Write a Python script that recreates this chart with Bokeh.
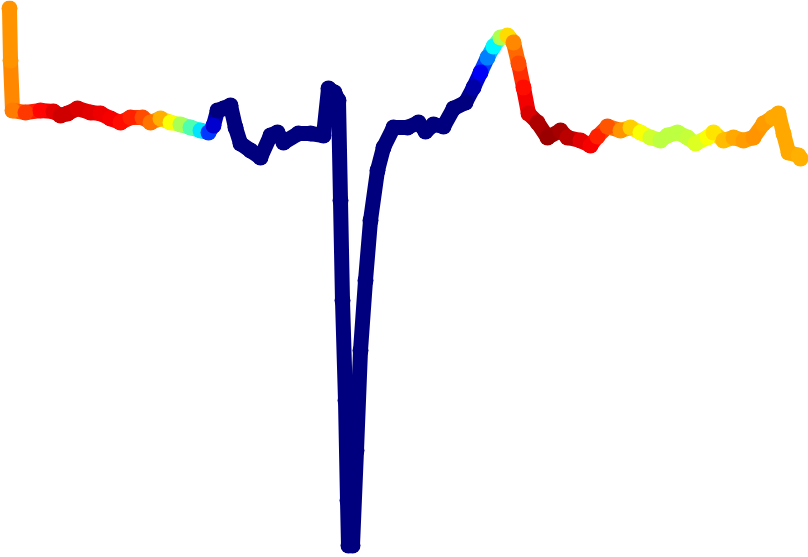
import numpy as np
from bokeh.plotting import figure
from bokeh.models import ColumnDataSource, Range1d
from bokeh.transform import linear_cmap
from bokeh.embed import file_html
from bokeh.resources import INLINE

# sample index
t = [9, 10, 12, 25, 40, 53, 60, 67, 77, 90, 100, 110, 120, 130, 142, 150, 160, 170, 180, 190,
     200, 208, 213, 217, 223, 230, 235, 240, 250, 260, 270, 277, 283, 298, 310, 323, 328, 334, 338, 340,
     342, 345, 347, 348, 352, 356, 360, 365, 370, 377, 383, 393, 407, 418, 425, 433, 443, 453, 465, 473,
     480, 487, 493, 500, 507, 513, 518, 523, 528, 537, 547, 560, 567, 580, 590, 597, 607, 620, 630, 640,
     650, 660, 667, 677, 687, 695, 707, 713, 723, 733, 743, 753, 763, 772, 778, 783, 788, 798, 800]
# amplitude (mV)
amp = [1.04, 0.52, 0.02, 0.00, 0.02, 0.01, -0.03, -0.01, 0.04, 0.00, -0.01, -0.06, -0.10, -0.05, -0.05, -0.10, -0.06, -0.10, -0.12, -0.15,
       -0.18, -0.20, -0.13, 0.02, 0.04, 0.07, -0.15, -0.31, -0.38, -0.45, -0.23, -0.20, -0.30, -0.21, -0.21, -0.23, 0.24, 0.20, 0.12, -0.88,
       -1.88, -2.88, -3.88, -4.33, -4.33, -3.38, -2.38, -1.68, -1.08, -0.58, -0.35, -0.15, -0.15, -0.10, -0.19, -0.12, -0.14, 0.04, 0.10, 0.25,
       0.40, 0.55, 0.66, 0.75, 0.77, 0.70, 0.49, 0.25, -0.01, -0.10, -0.25, -0.18, -0.25, -0.28, -0.33, -0.24, -0.14, -0.18, -0.15, -0.20,
       -0.25, -0.28, -0.23, -0.20, -0.25, -0.31, -0.25, -0.20, -0.28, -0.25, -0.28, -0.25, -0.11, -0.05, -0.01, -0.21, -0.40, -0.43, -0.46]
# importance score (0..1) used for colour
score = [0.73, 0.73, 0.75, 0.82, 0.87, 0.90, 0.92, 0.92, 0.91, 0.90, 0.89, 0.88, 0.86, 0.84, 0.80, 0.76, 0.70, 0.62, 0.54, 0.45,
         0.35, 0.18, 0.08, 0.0, 0.0, 0.0, 0.0, 0.0, 0.0, 0.0, 0.0, 0.0, 0.0, 0.0, 0.0, 0.0, 0.0, 0.0, 0.0, 0.0,
         0.0, 0.0, 0.0, 0.0, 0.0, 0.0, 0.0, 0.0, 0.0, 0.0, 0.0, 0.0, 0.0, 0.0, 0.0, 0.0, 0.0, 0.0, 0.0, 0.04,
         0.12, 0.25, 0.37, 0.55, 0.66, 0.74, 0.80, 0.86, 0.91, 0.95, 0.97, 0.96, 0.94, 0.90, 0.88, 0.84, 0.79, 0.73, 0.67, 0.62,
         0.58, 0.56, 0.56, 0.56, 0.57, 0.59, 0.62, 0.65, 0.69, 0.71, 0.72, 0.73, 0.72, 0.71, 0.71, 0.71, 0.71, 0.70, 0.70]

def jet(v):
    r = np.clip(1.5 - abs(4 * v - 3), 0, 1)
    g = np.clip(1.5 - abs(4 * v - 2), 0, 1)
    b = np.clip(1.5 - abs(4 * v - 1), 0, 1)
    return "#%02x%02x%02x" % (int(r * 255), int(g * 255), int(b * 255))

JET = [jet(i / 255) for i in range(256)]

n = len(t)
src = ColumnDataSource(dict(
    x0=t[:-1], y0=amp[:-1], x1=t[1:], y1=amp[1:],
    c=[(score[i] + score[i + 1]) / 2 for i in range(n - 1)],
))
pts = ColumnDataSource(dict(x=t, y=amp, c=score))

p = figure(width=808, height=557, output_backend="svg", toolbar_location=None,
           x_range=Range1d(0, 808), y_range=Range1d(-4.45, 1.12), min_border=0)
p.axis.visible = False
p.grid.visible = False
p.outline_line_color = None
p.background_fill_color = "white"
p.border_fill_color = "white"

cmap = linear_cmap("c", JET, 0, 1)
p.segment("x0", "y0", "x1", "y1", source=src, line_color=cmap, line_width=15, line_cap="round")
p.scatter("x", "y", source=pts, size=16, fill_color=cmap, line_color=None)

open("out.html", "w").write(file_html(p, INLINE))
